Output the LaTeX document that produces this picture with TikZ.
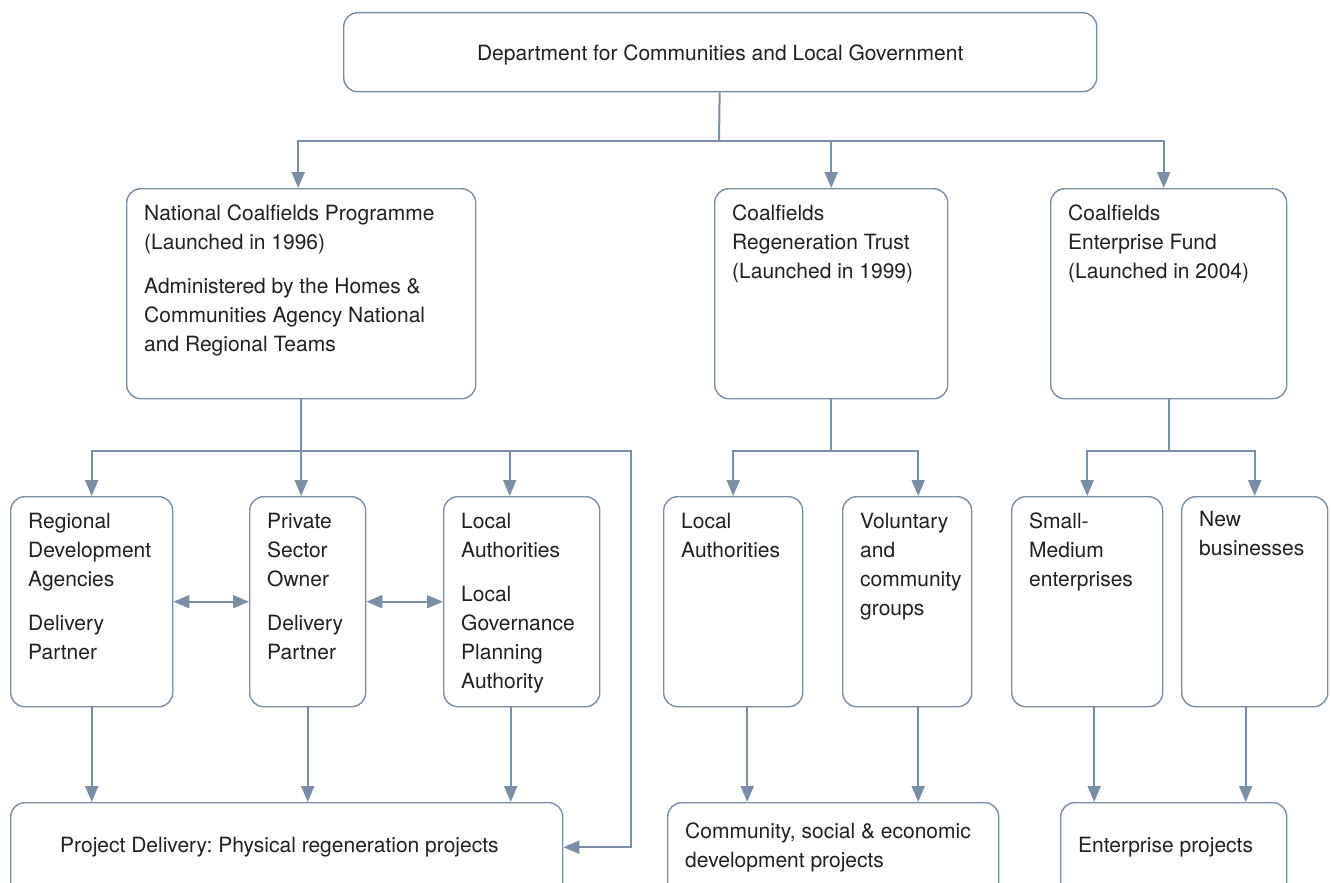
\documentclass[tikz,border=0pt]{standalone}
\usepackage{fontspec}
\setmainfont{TeX Gyre Heros}
\usetikzlibrary{arrows.meta}
\definecolor{linkblue}{RGB}{122,143,167}
\definecolor{inkgrey}{RGB}{35,31,32}
\frenchspacing
\begin{document}
\begin{tikzpicture}[
x=1pt, y=-1pt,
font=\fontsize{21}{29}\selectfont,
text=inkgrey,
box/.style={draw=linkblue, line width=1.4pt, rounded corners=14pt, anchor=north west, inner sep=0pt, minimum height=210pt},
txt/.style={anchor=north west, align=left, inner sep=0pt, xshift=18pt, yshift=-17pt},
link/.style={draw=linkblue, line width=2pt},
arr/.style={link, -{Triangle[length=16pt,width=13pt]}},
dbl/.style={link, {Triangle[length=16pt,width=13pt]}-{Triangle[length=16pt,width=13pt]}},
]
\clip (0,0) rectangle (1331,883);
\node[box, minimum width=753pt, minimum height=79pt, text depth=0pt] (dept) at (343,12) {Department for Communities and Local Government};

\node[box, minimum width=349pt] (ncp) at (126,188) {};
\node[box, minimum width=233pt] (crt) at (714,188) {};
\node[box, minimum width=236pt] (cef) at (1050,188) {};
\node[txt] (ncp-t) at (ncp.north west) {National Coalfields Programme\\(Launched in 1996)\\[15pt]Administered by the Homes \&\\Communities Agency National\\and Regional Teams};
\node[txt] (crt-t) at (crt.north west) {Coalfields\\Regeneration Trust\\(Launched in 1999)};
\node[txt] (cef-t) at (cef.north west) {Coalfields\\Enterprise Fund\\(Launched in 2004)};

\node[box, minimum width=162pt] (rda) at (10,496) {};
\node[box, minimum width=116pt] (pso) at (249,496) {};
\node[box, minimum width=156pt] (la1) at (443,496) {};
\node[box, minimum width=139pt] (la2) at (663,496) {};
\node[box, minimum width=129pt] (vcg) at (842,496) {};
\node[box, minimum width=151pt] (sme) at (1011,496) {};
\node[box, minimum width=146pt] (nb) at (1181,496) {};
\node[txt] (rda-t) at (rda.north west) {Regional\\Development\\Agencies\\[15pt]Delivery\\Partner};
\node[txt] (pso-t) at (pso.north west) {Private\\Sector\\Owner\\[15pt]Delivery\\Partner};
\node[txt] (la1-t) at (la1.north west) {Local\\Authorities\\[15pt]Local\\Governance\\Planning\\Authority};
\node[txt] (la2-t) at (la2.north west) {Local\\Authorities};
\node[txt] (vcg-t) at (vcg.north west) {Voluntary\\and\\community\\groups};
\node[txt] (sme-t) at (sme.north west) {Small-\\Medium\\enterprises};
\node[txt, yshift=2pt] (nb-t) at (nb.north west) {New\\businesses};

\node[box, minimum width=552pt, minimum height=95pt] (pdp) at (10,802) {};
\node[box, minimum width=331pt, minimum height=95pt] (cse) at (667,802) {};
\node[box, minimum width=226pt, minimum height=95pt] (ep) at (1060,802) {};
\node[txt, xshift=32pt, yshift=-18pt] (pdp-t) at (pdp.north west) {Project Delivery: Physical regeneration projects};
\node[txt, yshift=-4pt] (cse-t) at (cse.north west) {Community, social \& economic\\development projects};
\node[txt, yshift=-18pt] (ep-t) at (ep.north west) {Enterprise projects};

\coordinate (b1) at (719,141);
\draw[link] (dept) -- (b1);
\draw[arr] (b1) -| ([xshift=-3pt]ncp.north);
\draw[arr] (b1) -| (crt);
\draw[arr] (b1) -| ([xshift=-5pt]cef.north);

\coordinate (b2) at (300,451);
\coordinate (b2r) at (631,451);
\draw[arr] (ncp) -- (ncp.south |- pso.north);
\draw[arr] (b2) -| (rda);
\draw[arr] (b2) -| ([xshift=-12pt]la1.north);
\draw[arr] (b2) -- (b2r) |- ([yshift=3pt]pdp.east);
\draw[dbl] (rda) -- (pso);
\draw[dbl] (pso) -- (la1);

\draw[link] (crt) -- (crt |- b2);
\draw[arr] (crt |- b2) -| (la2);
\draw[arr] (crt |- b2) -| ([xshift=11pt]vcg.north);
\draw[link] (cef) -- (cef |- b2);
\draw[arr] (cef |- b2) -| (sme);
\draw[arr] (cef |- b2) -| (nb);

\draw[arr] (rda) -- (rda |- pdp.north);
\draw[arr] (pso) -- (pso |- pdp.north);
\draw[arr] ([xshift=-11pt]la1.south) -- ([xshift=-11pt]la1.south |- pdp.north);
\draw[arr] ([xshift=14pt]la2.south) -- ([xshift=14pt]la2.south |- cse.north);
\draw[arr] ([xshift=11pt]vcg.south) -- ([xshift=11pt]vcg.south |- cse.north);
\draw[arr] ([xshift=7pt]sme.south) -- ([xshift=7pt]sme.south |- ep.north);
\draw[arr] ([xshift=-9pt]nb.south) -- ([xshift=-9pt]nb.south |- ep.north);
\end{tikzpicture}
\end{document}
